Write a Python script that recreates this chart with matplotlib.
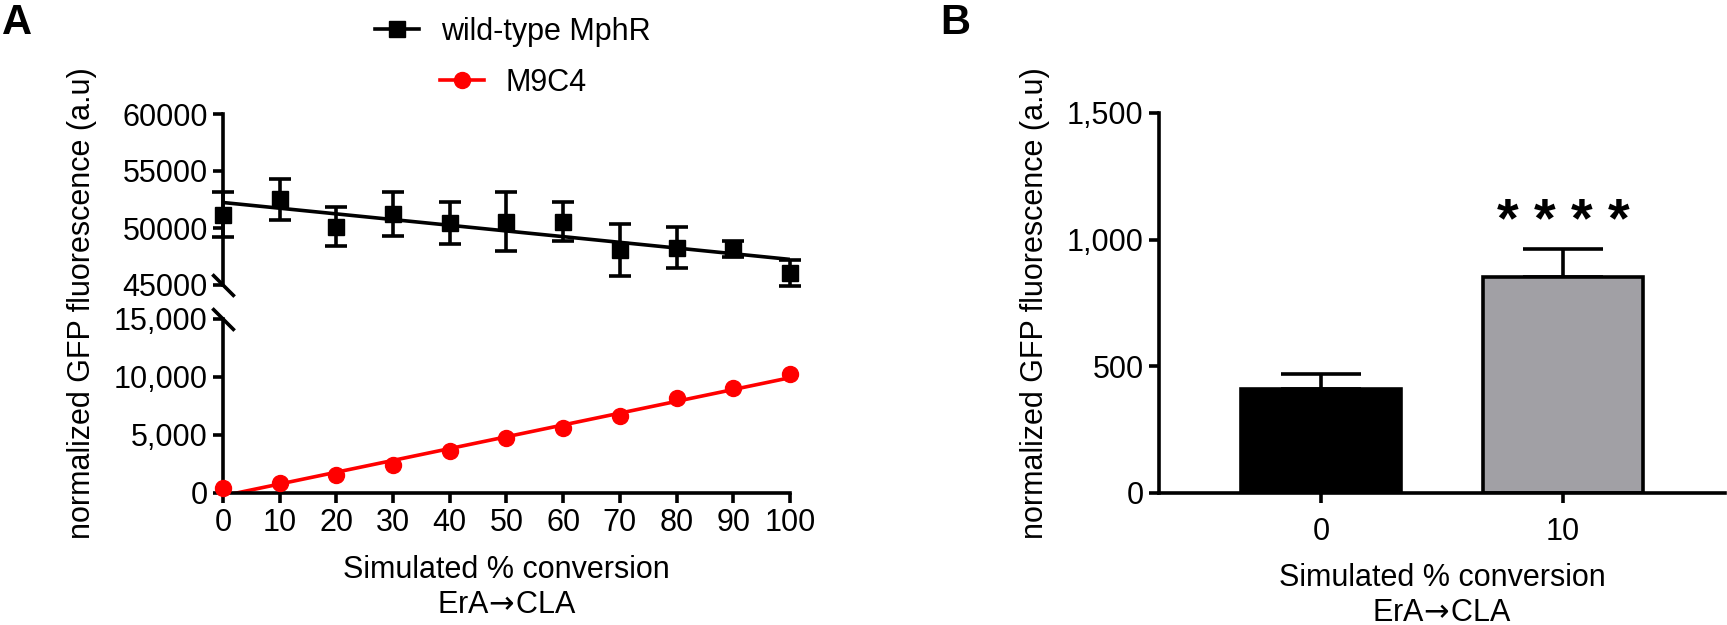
import numpy as np
import matplotlib
matplotlib.use("Agg")
import matplotlib.pyplot as plt
from matplotlib.lines import Line2D

plt.rcParams["font.family"] = ["Liberation Sans", "DejaVu Sans"]
plt.rcParams["font.size"] = 22

# panel A data
conversion = [0, 10, 20, 30, 40, 50, 60, 70, 80, 90, 100]
wt_mean = [51170, 52530, 50130, 51225, 50450, 50550, 50550, 48060, 48280, 48150, 46050]
wt_err = [1950, 1810, 1690, 1955, 1810, 2580, 1710, 2310, 1810, 700, 1100]
m9c4_mean = [430, 890, 1550, 2410, 3650, 4710, 5570, 6640, 8160, 9090, 10230]

# panel B data
bar_labels = ["0", "10"]
bar_values = [409, 854]
bar_err = [59, 111]
bar_colors = ["black", "#a1a0a5"]

LW = 2.6
W, H = 1727, 625
fig = plt.figure(figsize=(W / 100, H / 100), dpi=100)

def box(x0, y0, x1, y1):
    return [x0 / W, 1 - y1 / H, (x1 - x0) / W, (y1 - y0) / H]

ax_top = fig.add_axes(box(223, 114, 790, 285))
ax_bot = fig.add_axes(box(223, 319, 790, 493))
ax_b = fig.add_axes(box(1159, 113, 1725, 493))

for ax in (ax_top, ax_bot, ax_b):
    for s in ("top", "right"):
        ax.spines[s].set_visible(False)
    for s in ("left", "bottom"):
        ax.spines[s].set_linewidth(LW)
    ax.tick_params(width=LW, length=7, direction="out", labelsize=22, pad=4)

# \! cancels the relation spacing mathtext puts round the arrow
xlabel = "Simulated % conversion\nErA$\\!\\rightarrow\\!$CLA"

x = np.array(conversion)
xx = np.array([0, 100])

# wild-type, top segment
p_wt = np.polyfit(x, wt_mean, 1)
ax_top.plot(xx, np.polyval(p_wt, xx), color="black", lw=LW)
ax_top.errorbar(x, wt_mean, yerr=wt_err, fmt="s", color="black", ms=11,
                capsize=8, elinewidth=LW, capthick=LW, clip_on=False, zorder=3)
ax_top.set_xlim(0, 100)
ax_top.set_ylim(45000, 60000)
ax_top.set_yticks([45000, 50000, 55000, 60000])
ax_top.set_yticklabels(["45000", "50000", "55000", "60000"])
ax_top.spines["bottom"].set_visible(False)
ax_top.set_xticks([])

# M9C4, bottom segment
p_m9 = np.polyfit(x, m9c4_mean, 1)
ax_bot.plot(xx, np.polyval(p_m9, xx), color="red", lw=LW)
ax_bot.plot(x, m9c4_mean, "o", color="red", ms=11.5, clip_on=False, zorder=3)
ax_bot.set_xlim(0, 100)
ax_bot.set_ylim(0, 15000)
ax_bot.set_yticks([0, 5000, 10000, 15000])
ax_bot.set_yticklabels(["0", "5,000", "10,000", "15,000"])
ax_bot.set_xticks(conversion)
ax_bot.set_xlabel(xlabel, linespacing=1.2, labelpad=12)

# break marks
brk = dict(marker=[(-1, 1), (1, -1)], markersize=16, linestyle="none",
           color="black", mec="black", mew=LW, clip_on=False)
ax_top.plot([0], [0], transform=ax_top.transAxes, **brk)
ax_bot.plot([0], [1], transform=ax_bot.transAxes, **brk)

fig.text(82 / W, 1 - 303 / H, "normalized GFP fluorescence (a.u)",
         rotation=90, ha="center", va="center", fontsize=22)

# legends
h_wt = Line2D([], [], color="black", marker="s", ms=11, lw=LW)
h_m9 = Line2D([], [], color="red", marker="o", ms=11.5, lw=LW)
for h, lab, px, py in [(h_wt, "wild-type MphR", 375, 32), (h_m9, "M9C4", 440, 83)]:
    fig.legend([h], [lab], loc="center left", bbox_to_anchor=(px / W, 1 - py / H),
               frameon=False, borderpad=0, borderaxespad=0, handlelength=1.45,
               handletextpad=0.7, fontsize=22)

# panel B
pos = np.arange(len(bar_values))
ax_b.bar(pos, bar_values, width=0.66, color=bar_colors, edgecolor="black",
         linewidth=LW, zorder=2)
ax_b.errorbar(pos, bar_values, yerr=[[0] * len(bar_err), bar_err], fmt="none",
              ecolor="black", elinewidth=LW, capsize=29, capthick=LW, zorder=1)
ax_b.set_xlim(-0.67, 1.67)
ax_b.set_ylim(0, 1500)
ax_b.set_yticks([0, 500, 1000, 1500])
ax_b.set_yticklabels(["0", "500", "1,000", "1,500"])
ax_b.set_xticks(pos)
ax_b.set_xticklabels(bar_labels)
ax_b.tick_params(axis="x", pad=10)
ax_b.set_xlabel(xlabel, linespacing=1.2, labelpad=12)
ax_b.text(1, 1010, "* * * *", ha="center", va="baseline", fontsize=40,
          fontweight="bold")
fig.text(1035 / W, 1 - 303 / H, "normalized GFP fluorescence (a.u)",
         rotation=90, ha="center", va="center", fontsize=22)

fig.text(2 / W, 1 - 3 / H, "A", fontsize=30, fontweight="bold", ha="left", va="top")
fig.text(940 / W, 1 - 3 / H, "B", fontsize=30, fontweight="bold", ha="left", va="top")

fig.savefig("out.png", dpi=100)
